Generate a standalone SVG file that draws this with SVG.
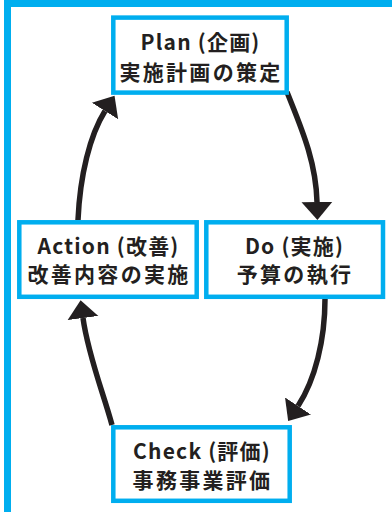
<svg xmlns="http://www.w3.org/2000/svg" width="392" height="512" viewBox="0 0 392 512">
<style>
.box{fill:#fff;stroke:#00aeef;stroke-width:4.5}
.t{font-family:"Noto Sans CJK JP","Noto Sans",sans-serif;font-weight:bold;font-size:21px;fill:#231f20;text-anchor:middle}
.l1{letter-spacing:1.2px}
.l2{letter-spacing:2.3px}
.c{fill:none;stroke:#231f20;stroke-width:5.5}
</style>
<defs>
<marker id="ah" markerUnits="userSpaceOnUse" markerWidth="20" markerHeight="34" viewBox="0 -17 20 34" refX="0" refY="0" orient="auto">
<path d="M0,-15.5 L18,0 L0,15.5 Z" fill="#231f20"/>
</marker>
</defs>
<rect width="392" height="512" fill="#fff"/>
<rect x="4" y="0" width="388" height="7" fill="#00aeef"/>
<rect x="4" y="0" width="7" height="512" fill="#00aeef"/>
<g id="connectors">
<path class="c" d="M287,92 C300,125 316,160 317,202" marker-end="url(#ah)"/>
<path class="c" d="M325,299 C325,340 315,380 298,406" marker-end="url(#ah)"/>
<path class="c" d="M112,425 C104,395 88,355 83,318" marker-end="url(#ah)"/>
<path class="c" d="M78,220 C80,175 90,135 105,111" marker-end="url(#ah)"/>
</g>
<g id="plan">
<rect class="box" x="113.3" y="17.6" width="173.4" height="75"/>
<text class="t"><tspan class="l1" x="200.5" y="50">Plan (企画)</tspan><tspan class="l2" x="201" y="80">実施計画の策定</tspan></text>
</g>
<g id="action">
<rect class="box" x="19.3" y="222.3" width="177.4" height="74.5"/>
<text class="t"><tspan class="l1" x="108.5" y="254">Action (改善)</tspan><tspan class="l2" x="109" y="282">改善内容の実施</tspan></text>
</g>
<g id="do">
<rect class="box" x="206.3" y="222.3" width="176.7" height="74.5"/>
<text class="t"><tspan class="l1" x="294.5" y="254">Do (実施)</tspan><tspan class="l2" x="295" y="282">予算の執行</tspan></text>
</g>
<g id="check">
<rect class="box" x="113.3" y="427.3" width="176.4" height="73.5"/>
<text class="t"><tspan class="l1" x="202" y="459">Check (評価)</tspan><tspan class="l2" x="202.5" y="488">事務事業評価</tspan></text>
</g>
</svg>
